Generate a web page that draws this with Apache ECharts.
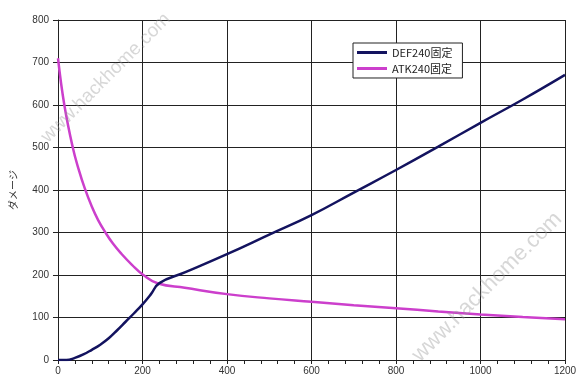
<!DOCTYPE html>
<html><head><meta charset="utf-8">
<script src="https://cdn.jsdelivr.net/npm/echarts@6/dist/echarts.min.js"></script>
<style>html,body{margin:0;padding:0;background:#fff}#c{width:584px;height:381px}</style>
</head><body><div id="c"></div>
<script>
const seriesNames = ['DEF240固定', 'ATK240固定'];
const defX = [0, 20, 40, 60, 80, 100, 120, 140, 160, 180, 200, 220, 240, 300, 400, 500, 600, 700, 800, 900, 1000, 1100, 1200];
const defY = [0, 0, 5, 13, 24, 36, 51, 70, 90, 110, 131, 155, 181, 206, 249, 295, 341, 394, 447, 502, 558, 613, 671];
const atkX = [0, 15, 35, 50, 63, 80, 95, 111, 130, 150, 175, 202, 237, 300, 400, 500, 600, 700, 800, 900, 1000, 1100, 1200];
const atkY = [710, 600, 500, 445, 405, 361, 329, 302, 274, 250, 224, 200, 180, 170, 155, 145, 137, 129, 122, 114, 107, 101, 96];
const yTicks = [0, 100, 200, 300, 400, 500, 600, 700, 800];
const xTicks = [0, 200, 400, 600, 800, 1000, 1200];
const yName = 'ダメージ';
const watermark = 'www.hackhome.com';

const pair = (xs, ys) => xs.map((x, i) => [x, ys[i]]);
const chart = echarts.init(document.getElementById('c'));
const lab = {color: '#333', fontSize: 10, fontFamily: 'Liberation Sans, Arial, sans-serif', formatter: v => String(v)};
const wm = (cx, cy, fs) => ({type: 'text', x: cx, y: cy, rotation: Math.PI / 4, z: 100,
  style: {text: watermark, fill: 'rgba(150,150,150,0.38)', fontSize: fs, align: 'center', verticalAlign: 'middle',
          fontFamily: 'Liberation Sans, sans-serif'}});
chart.setOption({
  animation: false,
  grid: {left: 56, right: 19, top: 20, bottom: 21, show: false},
  legend: {
    orient: 'vertical', left: 353, top: 43,
    data: seriesNames,
    backgroundColor: '#fff', borderColor: '#222', borderWidth: 1,
    padding: [4, 10, 4, 4], itemGap: 5, itemWidth: 30, itemHeight: 3, icon: 'rect',
    textStyle: {fontSize: 11, color: '#222', fontFamily: 'Noto Sans CJK JP, sans-serif'}
  },
  xAxis: {
    type: 'value', min: xTicks[0], max: xTicks[xTicks.length - 1], interval: 200,
    axisLine: {show: true, lineStyle: {color: '#222', width: 1}},
    axisTick: {show: true, length: 4, lineStyle: {color: '#222'}},
    minorTick: {show: true, splitNumber: 5, length: 4, lineStyle: {color: '#222'}},
    splitLine: {show: true, lineStyle: {color: '#222', width: 1}},
    axisLabel: Object.assign({margin: 6}, lab)
  },
  yAxis: {
    type: 'value', min: yTicks[0], max: yTicks[yTicks.length - 1], interval: 100,
    name: yName, nameLocation: 'middle', nameGap: 40, nameRotate: 90,
    nameTextStyle: {fontSize: 10, color: '#333', fontFamily: 'Noto Sans CJK JP, sans-serif'},
    axisLine: {show: true, lineStyle: {color: '#222', width: 1}},
    axisTick: {show: true, length: 5, lineStyle: {color: '#222'}},
    splitLine: {show: true, lineStyle: {color: '#222', width: 1}},
    axisLabel: Object.assign({margin: 9}, lab)
  },
  graphic: [wm(106, 78, 19), wm(487, 287, 22)],
  series: [
    {name: seriesNames[0], type: 'line', data: pair(defX, defY), smooth: 0.45, showSymbol: false, symbol: 'none',
     lineStyle: {color: '#13135f', width: 2.5}, itemStyle: {color: '#13135f'}, z: 3},
    {name: seriesNames[1], type: 'line', data: pair(atkX, atkY), smooth: 0.45, showSymbol: false, symbol: 'none',
     lineStyle: {color: '#cc3fcc', width: 2.5}, itemStyle: {color: '#cc3fcc'}, z: 2}
  ]
});
</script></body></html>
